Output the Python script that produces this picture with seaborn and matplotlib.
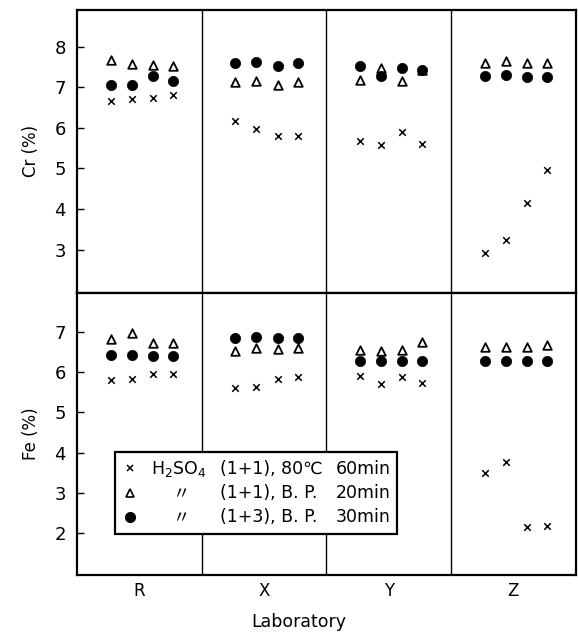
import numpy as np
import pandas as pd
import matplotlib
matplotlib.use("Agg")
import matplotlib.pyplot as plt
from matplotlib.lines import Line2D
import seaborn as sns

# Laboratories and replicate determinations (4 per lab)
labs = ["R", "X", "Y", "Z"]
methods = ["h2so4_80", "h2so4_bp_11", "h2so4_bp_13"]

# Cr (%) by method, lab-major (R x4, X x4, Y x4, Z x4)
cr_80c = [6.67, 6.71, 6.74, 6.81,  6.17, 5.98, 5.80, 5.80,  5.68, 5.58, 5.90, 5.61,  2.92, 3.23, 4.15, 4.95]
cr_bp11 = [7.67, 7.57, 7.55, 7.52,  7.12, 7.16, 7.05, 7.12,  7.18, 7.47, 7.16, 7.43,  7.60, 7.64, 7.60, 7.59]
cr_bp13 = [7.05, 7.05, 7.27, 7.15,  7.61, 7.63, 7.53, 7.61,  7.53, 7.27, 7.47, 7.42,  7.28, 7.31, 7.26, 7.26]

# Fe (%) by method
fe_80c = [5.80, 5.82, 5.95, 5.94,  5.61, 5.63, 5.82, 5.87,  5.91, 5.70, 5.88, 5.72,  3.48, 3.77, 2.14, 2.17]
fe_bp11 = [6.82, 6.96, 6.73, 6.71,  6.52, 6.59, 6.57, 6.59,  6.55, 6.52, 6.55, 6.75,  6.63, 6.63, 6.63, 6.67]
fe_bp13 = [6.42, 6.42, 6.40, 6.40,  6.84, 6.86, 6.84, 6.84,  6.28, 6.28, 6.28, 6.27,  6.27, 6.27, 6.27, 6.27]

cr_ticks = [3, 4, 5, 6, 7, 8]
fe_ticks = [2, 3, 4, 5, 6, 7]

# horizontal placement of the 4 replicates inside each lab column
rep_offsets = [0.27, 0.44, 0.61, 0.77]

sns.set_theme(style="white")
plt.rcParams["font.family"] = ["DejaVu Sans", "Noto Sans CJK JP"]
plt.rcParams.update({
    "axes.edgecolor": "black", "text.color": "black", "axes.labelcolor": "black",
    "xtick.color": "black", "ytick.color": "black",
})


def long_frame(series):
    rows = []
    for method, vals in zip(methods, series):
        for k, v in enumerate(vals):
            lab_i, rep = divmod(k, 4)
            rows.append({"method": method, "lab": labs[lab_i],
                         "pos": lab_i + rep_offsets[rep], "value": v})
    return pd.DataFrame(rows)


cr_df = long_frame([cr_80c, cr_bp11, cr_bp13])
fe_df = long_frame([fe_80c, fe_bp11, fe_bp13])

marker_style = {
    "h2so4_80": dict(marker="x", s=22, color="black", linewidth=1.1),
    "h2so4_bp_11": dict(marker="^", s=38, facecolor="white", edgecolor="black", linewidth=1.3),
    "h2so4_bp_13": dict(marker="o", s=55, color="black", edgecolor="black", linewidth=0.5),
}

fig, (ax_cr, ax_fe) = plt.subplots(2, 1, figsize=(5.78, 6.35), dpi=100, sharex=True)
fig.subplots_adjust(left=0.133, right=0.996, top=0.984, bottom=0.0945, hspace=0)

for ax, df, ticks, ylim, ylabel in [
    (ax_cr, cr_df, cr_ticks, (1.94, 8.9), "Cr (%)"),
    (ax_fe, fe_df, fe_ticks, (0.96, 7.97), "Fe (%)"),
]:
    for m in methods:
        sns.scatterplot(data=df[df["method"] == m], x="pos", y="value", ax=ax,
                        legend=False, zorder=3, **marker_style[m])
    for b in range(1, len(labs)):
        ax.axvline(b, color="black", lw=1.0, zorder=1)
    ax.set_xlim(0, len(labs))
    ax.set_ylim(*ylim)
    ax.set_yticks(ticks)
    ax.set_yticklabels([str(t) for t in ticks], fontsize=13)
    ax.set_ylabel(ylabel, fontsize=12, labelpad=10)
    ax.set_xlabel("")
    ax.tick_params(axis="y", direction="in", length=5, width=1, left=True, pad=8)
    ax.tick_params(axis="x", length=0)
    for sp in ax.spines.values():
        sp.set_linewidth(1.6)
        sp.set_color("black")

ax_fe.set_xticks([i + 0.5 for i in range(len(labs))])
ax_fe.set_xticklabels(labs, fontsize=12)
ax_fe.tick_params(axis="x", pad=5)
ax_fe.set_xlabel("Laboratory", fontsize=12.5, labelpad=6)
ax_fe.xaxis.set_label_coords(0.445, -0.135)

# legend laid out as three aligned text columns
blank = Line2D([], [], linestyle="none", marker=None)
h_x = Line2D([], [], linestyle="none", marker="x", color="black", markersize=5, mew=1.1)
h_tri = Line2D([], [], linestyle="none", marker="^", mfc="white", mec="black", markersize=6, mew=1.2)
h_dot = Line2D([], [], linestyle="none", marker="o", color="black", markersize=7)
handles = [h_x, h_tri, h_dot, blank, blank, blank, blank, blank, blank]
labels = ["H$_2$SO$_4$", "    〃", "    〃",
          "(1+1), 80℃", "(1+1), B. P.", "(1+3), B. P.",
          "60min", "20min", "30min"]
leg = ax_fe.legend(handles, labels, ncol=3, loc="upper left",
                   bbox_to_anchor=(0.076, 0.436), borderaxespad=0,
                   fontsize=12.5, frameon=True,
                   fancybox=False, edgecolor="black", framealpha=1,
                   handlelength=1.0, handletextpad=0.7, columnspacing=-0.95,
                   labelspacing=0.35, borderpad=0.4)
leg.get_frame().set_linewidth(1.6)
leg.set_zorder(5)

fig.savefig("out.png", dpi=100)
